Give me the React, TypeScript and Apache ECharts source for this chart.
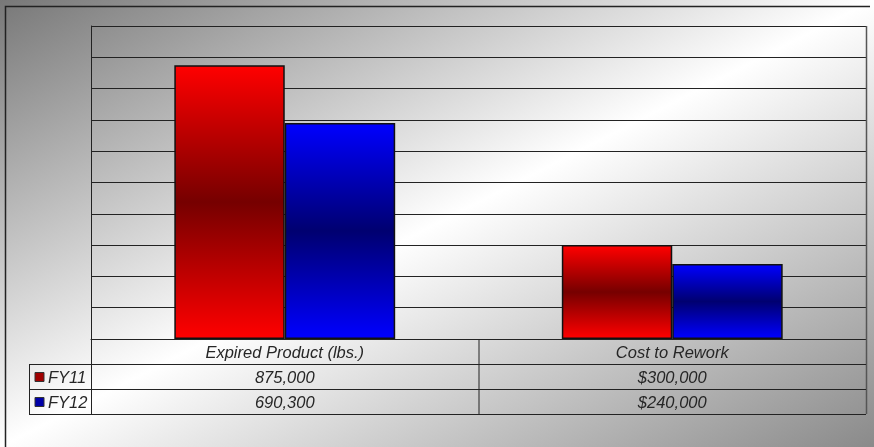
import React, { useEffect, useRef } from "react";
import * as echarts from "echarts";

const categories = ["Expired Product (lbs.)", "Cost to Rework"];
const seriesNames = ["FY11", "FY12"];
const fy11Values = [875000, 300000];
const fy12Values = [690300, 240000];
const valuePrefixes = ["", "$"];
const yMin = 0;
const yMax = 1000000;
const yInterval = 100000;

const W = 874;
const H = 447;
const GRID = { left: 91, right: 8, top: 26, bottom: 108 };
const FONT = "'Liberation Sans', Arial, sans-serif";
const FONT_SIZE = 16.5;
const LINE = "#222";
const TEXT = "#262626";

const fmt = (v: number, prefix: string) =>
  prefix + v.toString().replace(/\B(?=(\d{3})+(?!\d))/g, ",");

const barGradient = (edge: string, mid: string) =>
  new echarts.graphic.LinearGradient(0, 0, 0, 1, [
    { offset: 0, color: edge },
    { offset: 0.5, color: mid },
    { offset: 1, color: edge },
  ]);

export default function App() {
  const ref = useRef<HTMLDivElement>(null);

  useEffect(() => {
    if (!ref.current) return;
    const chart = echarts.init(ref.current, undefined, { renderer: "svg", width: W, height: H });

    const seriesData = [fy11Values, fy12Values];
    const seriesColors = [
      { edge: "#ff0000", mid: "#760000", marker: "#a00000" },
      { edge: "#0000ff", mid: "#000070", marker: "#0000a8" },
    ];

    chart.setOption({
      animation: false,
      grid: { ...GRID, containLabel: false },
      xAxis: {
        type: "category",
        data: categories,
        axisLine: { show: true, lineStyle: { color: LINE, width: 1 } },
        axisTick: { show: false },
        axisLabel: {
          fontSize: FONT_SIZE,
          fontStyle: "italic",
          fontFamily: FONT,
          color: TEXT,
          margin: 13,
          verticalAlign: "middle",
          interval: 0,
        },
      },
      yAxis: {
        type: "value",
        min: yMin,
        max: yMax,
        interval: yInterval,
        axisLabel: { show: false },
        axisTick: { show: false },
        axisLine: { show: true, lineStyle: { color: LINE, width: 1 } },
        splitLine: { show: true, lineStyle: { color: LINE, width: 1 } },
      },
      series: seriesNames.map((name, i) => ({
        name,
        type: "bar",
        data: seriesData[i],
        barGap: "0%",
        barCategoryGap: "43%",
        itemStyle: {
          color: barGradient(seriesColors[i].edge, seriesColors[i].mid),
          borderColor: "#111",
          borderWidth: 1.5,
        },
      })),
    });

    const plotLeft = GRID.left;
    const plotRight = W - GRID.right;
    const plotTop = GRID.top;
    const plotBottom = H - GRID.bottom;
    const rowH = 25;
    const rowTops = [plotBottom, plotBottom + rowH, plotBottom + 2 * rowH, plotBottom + 3 * rowH];
    const legendLeft = 29;
    const catBoundary = plotLeft + (plotRight - plotLeft) / 2;

    const elements: any[] = [];
    elements.push({
      type: "rect",
      z: -100,
      silent: true,
      shape: { x: 0, y: 0, width: W, height: H },
      style: {
        fill: new echarts.graphic.LinearGradient(0, 0, 1, 1, [
          { offset: 0, color: "#787878" },
          { offset: 0.5, color: "#ffffff" },
          { offset: 1, color: "#8a8a8a" },
        ]),
      },
    });
    elements.push({
      type: "polyline",
      z: 5,
      shape: { points: [[5.5, H], [5.5, 6.5], [870, 6.5]] },
      style: { stroke: LINE, lineWidth: 1.5, fill: null },
    });
    elements.push({
      type: "line",
      z: 5,
      shape: { x1: plotRight + 0.5, y1: plotTop, x2: plotRight + 0.5, y2: rowTops[3] },
      style: { stroke: "#555", lineWidth: 1.5 },
    });
    [rowTops[1], rowTops[2], rowTops[3]].forEach((y) => {
      elements.push({
        type: "line",
        z: 5,
        shape: { x1: legendLeft, y1: y + 0.5, x2: plotRight, y2: y + 0.5 },
        style: { stroke: LINE, lineWidth: 1 },
      });
    });
    [legendLeft, plotLeft, catBoundary].forEach((x) => {
      elements.push({
        type: "line",
        z: 5,
        shape: {
          x1: x + 0.5,
          y1: x === legendLeft ? rowTops[1] : plotBottom,
          x2: x + 0.5,
          y2: rowTops[3],
        },
        style: { stroke: LINE, lineWidth: 1 },
      });
    });

    seriesNames.forEach((name, si) => {
      const cy = rowTops[si + 1] + rowH / 2 + 0.5;
      elements.push({
        type: "rect",
        z: 6,
        shape: { x: 35, y: cy - 4.5, width: 9, height: 9 },
        style: { fill: seriesColors[si].marker, stroke: "#333", lineWidth: 1 },
      });
      elements.push({
        type: "text",
        z: 6,
        x: 48,
        y: cy,
        style: {
          text: name,
          font: `italic ${FONT_SIZE}px ${FONT}`,
          fill: TEXT,
          textAlign: "left",
          textVerticalAlign: "middle",
        },
      });
      categories.forEach((_, ci) => {
        const px = chart.convertToPixel({ xAxisIndex: 0 }, ci) as number;
        elements.push({
          type: "text",
          z: 6,
          x: px,
          y: cy,
          style: {
            text: fmt(seriesData[si][ci], valuePrefixes[ci]),
            font: `italic ${FONT_SIZE}px ${FONT}`,
            fill: TEXT,
            textAlign: "center",
            textVerticalAlign: "middle",
          },
        });
      });
    });

    chart.setOption({ graphic: { elements } });

    return () => chart.dispose();
  }, []);

  return (
    <div
      ref={ref}
      style={{ position: "fixed", left: 0, top: 0, width: W, height: H }}
    />
  );
}
